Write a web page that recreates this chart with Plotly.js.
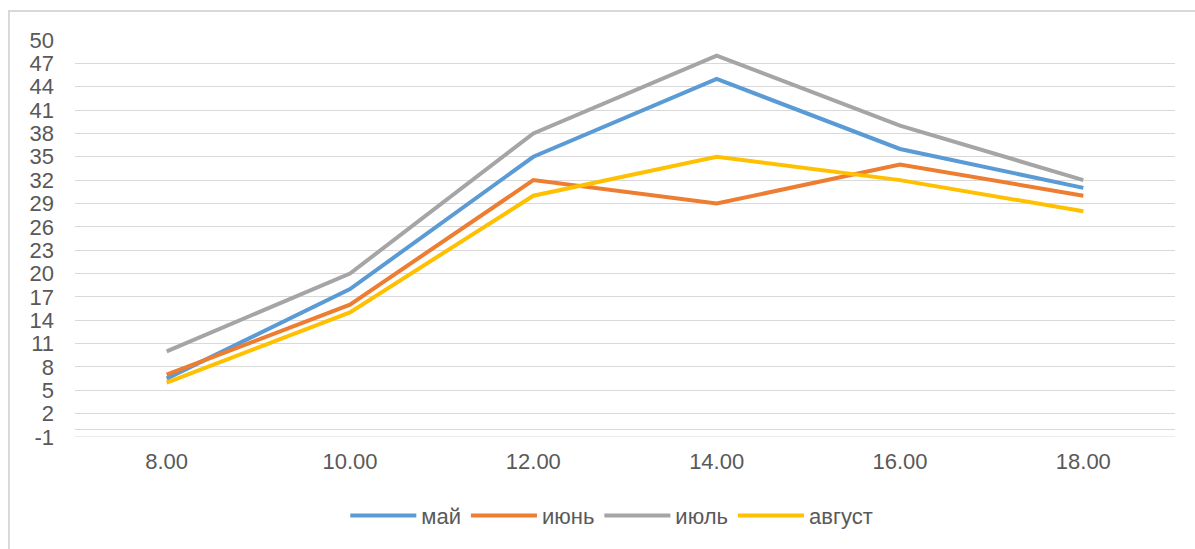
<!DOCTYPE html>
<html>
<head>
<meta charset="utf-8">
<script src="https://cdn.plot.ly/plotly-3.0.1.min.js"></script>
<style>
html,body{margin:0;padding:0;background:#fff;overflow:hidden;}
#chart{width:1195px;height:549px;position:absolute;left:0;top:0;}
#frame{position:absolute;left:8px;top:10px;width:1200px;height:600px;border:2px solid #d9d9d9;box-sizing:border-box;pointer-events:none;}
</style>
</head>
<body>
<div id="chart"></div>
<div id="frame"></div>
<script>
var categories = ["8.00", "10.00", "12.00", "14.00", "16.00", "18.00"];
var seriesNames = ["май", "июнь", "июль", "август"];
var may    = [6.5, 18, 35, 45, 36, 31];
var june   = [7, 16, 32, 29, 34, 30];
var july   = [10, 20, 38, 48, 39, 32];
var august = [6, 15, 30, 35, 32, 28];
var yTickValues = [-1, 2, 5, 8, 11, 14, 17, 20, 23, 26, 29, 32, 35, 38, 41, 44, 47, 50];
var yTickLabels = ["-1", "2", "5", "8", "11", "14", "17", "20", "23", "26", "29", "32", "35", "38", "41", "44", "47", "50"];
var colors = ["#5B9BD5", "#ED7D31", "#A5A5A5", "#FFC000"];
var values = [may, june, july, august];

var traces = values.map(function (v, i) {
  return {
    x: categories, y: v, type: "scatter", mode: "lines",
    name: seriesNames[i],
    line: {color: colors[i], width: 4}
  };
});

var layout = {
  width: 1195, height: 549,
  margin: {l: 75, r: 20, t: 40, b: 110},
  paper_bgcolor: "#ffffff", plot_bgcolor: "#ffffff",
  font: {family: "Liberation Sans, Arial, sans-serif", size: 22, color: "#595959"},
  showlegend: true,
  legend: {orientation: "h", x: 0.488, xanchor: "center", y: -0.198, yanchor: "middle",
           font: {size: 22, color: "#595959"}, itemwidth: 66, traceorder: "normal"},
  xaxis: {type: "category", range: [-0.5, 5.5], showgrid: false, showline: false,
          zeroline: false, ticks: "", ticklabelstandoff: 9, fixedrange: true},
  yaxis: {range: [-1, 50], tickmode: "array", tickvals: yTickValues, ticktext: yTickLabels,
          showgrid: true, gridcolor: "#d9d9d9", gridwidth: 1,
          zeroline: true, zerolinecolor: "#d9d9d9", zerolinewidth: 1,
          showline: false, ticks: "", ticklabelstandoff: 20, fixedrange: true},
  shapes: [{type: "line", xref: "paper", yref: "y", x0: 0, x1: 1, y0: yTickValues[0], y1: yTickValues[0],
            line: {color: "#d9d9d9", width: 1}, layer: "below"}]
};

Plotly.newPlot("chart", traces, layout, {displayModeBar: false, staticPlot: true});
</script>
</body>
</html>
